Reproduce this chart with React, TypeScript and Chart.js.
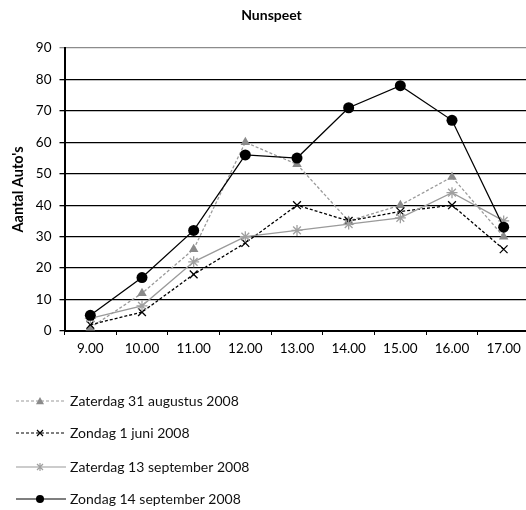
import React, { useEffect, useRef } from 'react';
import { Chart, registerables } from 'chart.js';

Chart.register(...registerables);

const categories = ['9.00', '10.00', '11.00', '12.00', '13.00', '14.00', '15.00', '16.00', '17.00'];
const zaterdag31Aug = [1, 12, 26, 60, 53, 35, 40, 49, 30];
const zondag1Juni = [2, 6, 18, 28, 40, 35, 38, 40, 26];
const zaterdag13Sep = [4, 8, 22, 30, 32, 34, 36, 44, 35];
const zondag14Sep = [5, 17, 32, 56, 55, 71, 78, 67, 33];
const seriesNames = [
  'Zaterdag 31 augustus 2008',
  'Zondag 1 juni 2008',
  'Zaterdag 13 september 2008',
  'Zondag 14 september 2008',
];
const chartTitle = 'Nunspeet';
const yAxisTitle = "Aantal Auto's";
const yMin = 0;
const yMax = 90;
const yStep = 10;

const FONT = 'Lato, "Liberation Sans", sans-serif';

type Style = { color: string; dash: number[]; marker: string; markerColor: string };
const styles: Style[] = [
  { color: '#9a9a9a', dash: [3, 2], marker: 'triangle', markerColor: '#8a8a8a' },
  { color: '#000000', dash: [3, 2], marker: 'crossRot', markerColor: '#000000' },
  { color: '#9a9a9a', dash: [], marker: 'star', markerColor: '#a0a0a0' },
  { color: '#000000', dash: [], marker: 'circle', markerColor: '#000000' },
];

function drawMarker(ctx: CanvasRenderingContext2D, kind: string, x: number, y: number, r: number, color: string) {
  ctx.save();
  ctx.setLineDash([]);
  ctx.fillStyle = color;
  ctx.strokeStyle = color;
  ctx.lineWidth = 1.2;
  ctx.beginPath();
  if (kind === 'circle') {
    ctx.arc(x, y, r, 0, Math.PI * 2);
    ctx.fill();
  } else if (kind === 'triangle') {
    ctx.moveTo(x, y - r);
    ctx.lineTo(x + r, y + r * 0.8);
    ctx.lineTo(x - r, y + r * 0.8);
    ctx.closePath();
    ctx.fill();
  } else if (kind === 'crossRot') {
    ctx.moveTo(x - r * 0.75, y - r * 0.75);
    ctx.lineTo(x + r * 0.75, y + r * 0.75);
    ctx.moveTo(x + r * 0.75, y - r * 0.75);
    ctx.lineTo(x - r * 0.75, y + r * 0.75);
    ctx.stroke();
  } else if (kind === 'star') {
    ctx.moveTo(x - r * 0.75, y - r * 0.75);
    ctx.lineTo(x + r * 0.75, y + r * 0.75);
    ctx.moveTo(x + r * 0.75, y - r * 0.75);
    ctx.lineTo(x - r * 0.75, y + r * 0.75);
    ctx.moveTo(x, y - r);
    ctx.lineTo(x, y + r);
    ctx.stroke();
  }
  ctx.restore();
}

const decorPlugin = {
  id: 'decor',
  afterDraw(chart: any) {
    const ctx: CanvasRenderingContext2D = chart.ctx;
    const area = chart.chartArea;
    ctx.save();
    // Title
    ctx.fillStyle = '#000';
    ctx.font = `bold 14px ${FONT}`;
    ctx.textAlign = 'center';
    ctx.textBaseline = 'middle';
    ctx.fillText(chartTitle, 271.5, 15);
    // Y axis title
    ctx.save();
    ctx.translate(18, (area.top + area.bottom) / 2);
    ctx.rotate(-Math.PI / 2);
    ctx.font = `bold 14.5px ${FONT}`;
    ctx.fillText(yAxisTitle, 0, 0);
    ctx.restore();
    // Legend
    const legendY = [401, 433, 467, 499];
    seriesNames.forEach((name, i) => {
      const s = styles[i];
      const y = legendY[i];
      ctx.save();
      ctx.strokeStyle = s.color;
      ctx.lineWidth = 1.2;
      ctx.setLineDash(s.dash);
      ctx.beginPath();
      ctx.moveTo(16, y);
      ctx.lineTo(66, y);
      ctx.stroke();
      ctx.restore();
      drawMarker(ctx, s.marker, 40, y, 4, s.markerColor);
      ctx.fillStyle = '#111';
      ctx.font = `14px ${FONT}`;
      ctx.textAlign = 'left';
      ctx.textBaseline = 'middle';
      ctx.fillText(name, 70, y);
    });
    ctx.restore();
  },
};

export default function App() {
  const ref = useRef<HTMLCanvasElement | null>(null);
  useEffect(() => {
    if (!ref.current) return;
    const seriesData = [zaterdag31Aug, zondag1Juni, zaterdag13Sep, zondag14Sep];
    const chart = new Chart(ref.current, {
      type: 'line',
      data: {
        labels: categories,
        datasets: seriesData.map((d, i) => ({
          label: seriesNames[i],
          data: d,
          borderColor: styles[i].color,
          borderWidth: 1.3,
          borderDash: styles[i].dash,
          pointStyle: styles[i].marker as any,
          pointRadius: 5.5,
          pointBackgroundColor: styles[i].markerColor,
          pointBorderColor: styles[i].markerColor,
          pointBorderWidth: styles[i].marker === 'circle' || styles[i].marker === 'triangle' ? 0 : 1.3,
          tension: 0,
          clip: false as any,
          order: 3 - i,
        })),
      },
      options: {
        animation: false,
        responsive: false,
        layout: { padding: { left: 0, right: 10.5, top: 48, bottom: 149 } },
        plugins: {
          legend: { display: false },
          title: { display: false },
          tooltip: { enabled: false },
        },
        scales: {
          x: {
            type: 'category',
            offset: true,
            afterFit: (scale: any) => {
              scale.height = 30;
            },
            grid: {
              display: true,
              drawOnChartArea: false,
              drawTicks: true,
              tickLength: 4,
              offset: true,
              color: '#000',
            },
            border: { display: true, color: '#000', width: 2 },
            ticks: {
              color: '#000',
              font: { family: FONT, size: 13.5 },
              padding: 6,
              maxRotation: 0,
              autoSkip: false,
            },
          },
          y: {
            min: yMin,
            max: yMax,
            afterFit: (scale: any) => {
              scale.width = 64.5;
            },
            grid: {
              color: (c: any) => (c.tick && c.tick.value === yMax ? '#8c8c8c' : '#000'),
              lineWidth: 1.3,
              drawTicks: true,
              tickLength: 5,
            },
            border: { display: true, color: '#000', width: 2 },
            ticks: {
              stepSize: yStep,
              color: '#000',
              font: { family: FONT, size: 13.5 },
              padding: 8,
            },
          },
        },
      },
      plugins: [decorPlugin],
    });
    return () => chart.destroy();
  }, []);
  return (
    <div style={{ position: 'absolute', left: 0, top: 0, width: 526, height: 510, overflow: 'hidden', background: '#fff' }}>
      <canvas ref={ref} width={540} height={510} style={{ display: 'block' }} />
    </div>
  );
}
